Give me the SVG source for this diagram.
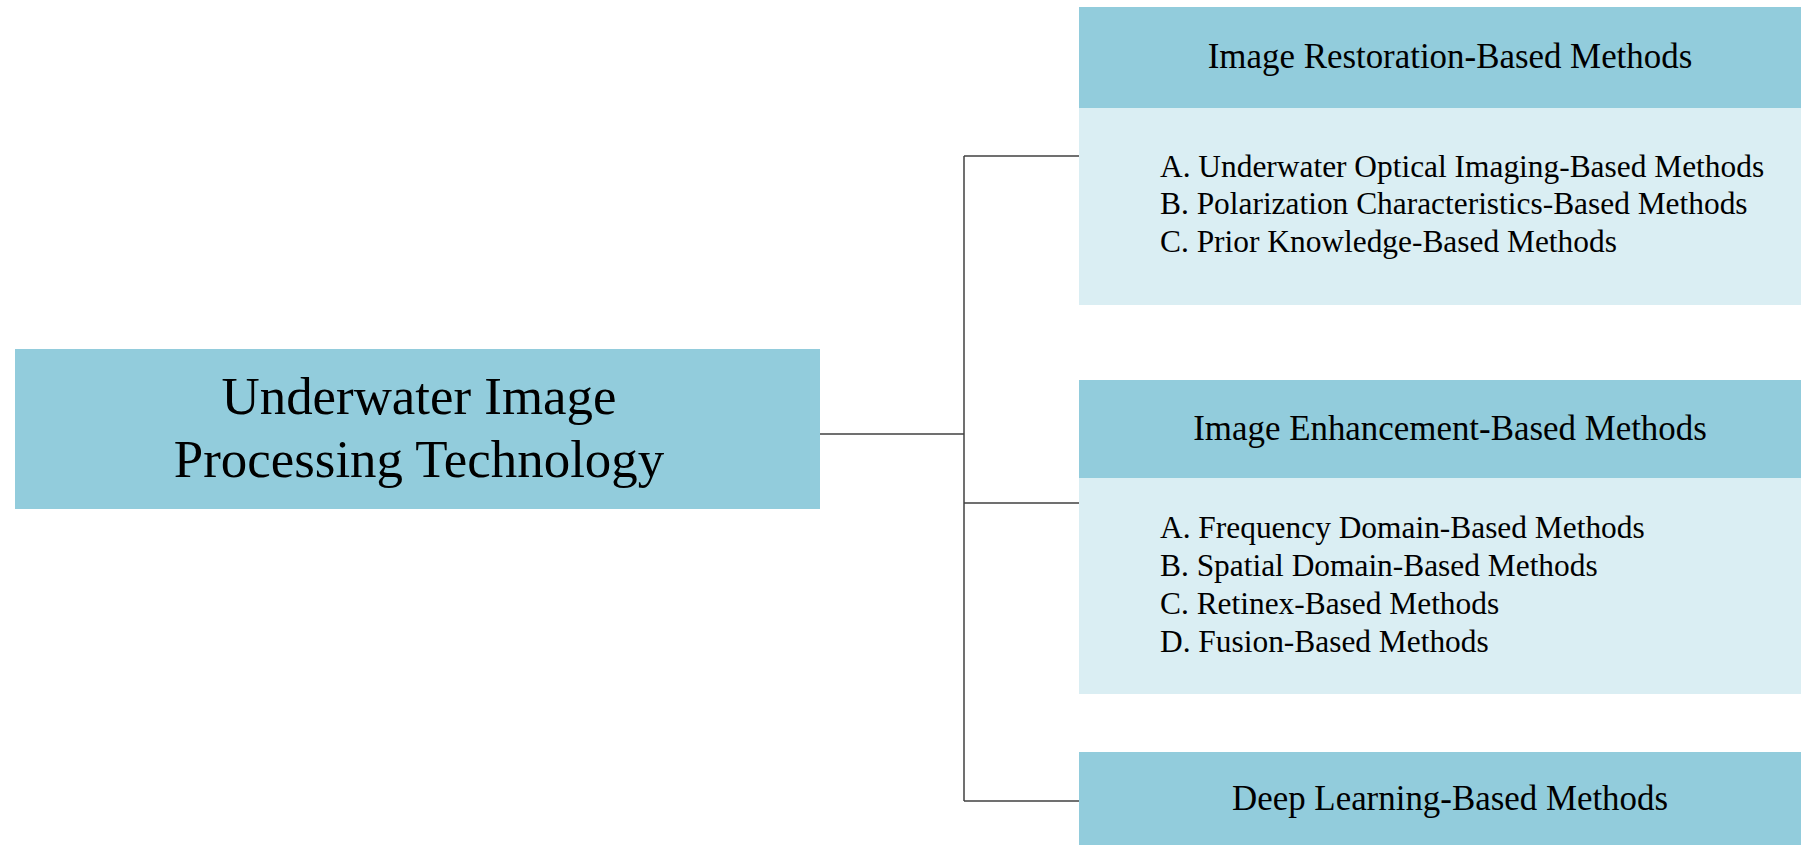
<svg xmlns="http://www.w3.org/2000/svg" width="1801" height="845" viewBox="0 0 1801 845">
<style>
.t{font-family:"Liberation Serif","Times New Roman",serif;fill:#000}
.hd{fill:#92CCDC}
.bd{fill:#DAEEF3}
.c{fill:none;stroke:#404040;stroke-width:1.5}
.h{font-size:34.9px}
.l{font-size:31.4px}
</style>
<rect width="1801" height="845" fill="#FFFFFF"/>
<g id="connectors">
<path class="c" d="M820 434 H964"/>
<path class="c" d="M964 156 V801"/>
<path class="c" d="M964 156 H1079"/>
<path class="c" d="M964 503 H1079"/>
<path class="c" d="M964 801 H1079"/>
</g>
<g id="root">
<rect x="15" y="349" width="805" height="160" class="hd"/>
<text class="t" x="419" y="414" font-size="52.9" text-anchor="middle">Underwater Image</text>
<text class="t" x="419" y="477" font-size="52.9" text-anchor="middle">Processing Technology</text>
</g>
<g id="restoration">
<rect x="1079" y="7" width="722" height="101" class="hd"/>
<rect x="1079" y="108" width="722" height="197" class="bd"/>
<text class="t h" x="1450" y="68" text-anchor="middle">Image Restoration-Based Methods</text>
<text class="t l" x="1160" y="177">A. Underwater Optical Imaging-Based Methods</text>
<text class="t l" x="1160" y="214">B. Polarization Characteristics-Based Methods</text>
<text class="t l" x="1160" y="252">C. Prior Knowledge-Based Methods</text>
</g>
<g id="enhancement">
<rect x="1079" y="380" width="722" height="98" class="hd"/>
<rect x="1079" y="478" width="722" height="216" class="bd"/>
<text class="t h" x="1450" y="440" text-anchor="middle">Image Enhancement-Based Methods</text>
<text class="t l" x="1160" y="538">A. Frequency Domain-Based Methods</text>
<text class="t l" x="1160" y="576">B. Spatial Domain-Based Methods</text>
<text class="t l" x="1160" y="614">C. Retinex-Based Methods</text>
<text class="t l" x="1160" y="652">D. Fusion-Based Methods</text>
</g>
<g id="deeplearning">
<rect x="1079" y="752" width="722" height="93" class="hd"/>
<text class="t h" x="1450" y="810" text-anchor="middle">Deep Learning-Based Methods</text>
</g>
</svg>
